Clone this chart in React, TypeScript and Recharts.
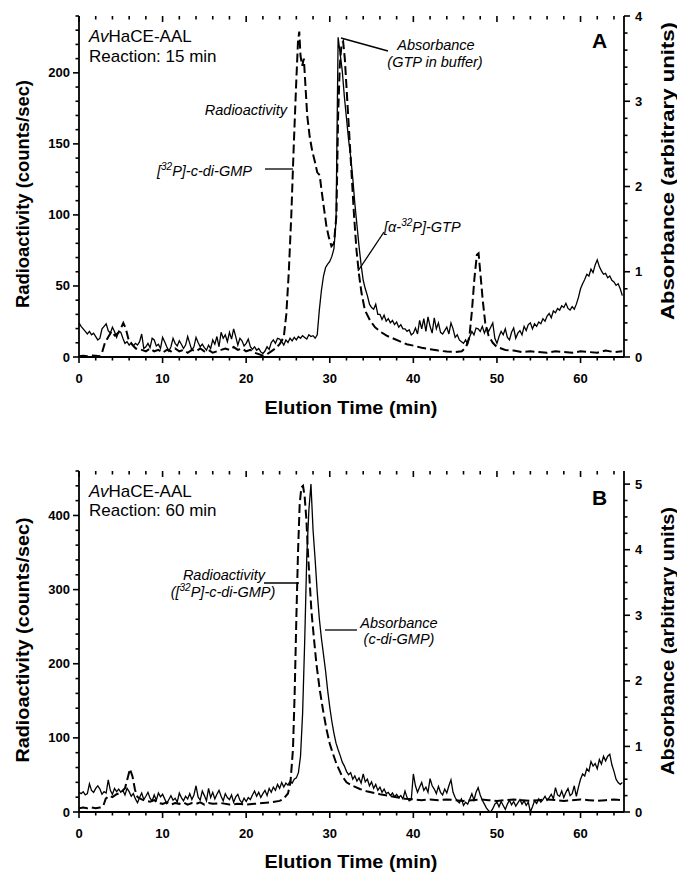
import React from "react"
import { ComposedChart, Line, XAxis, YAxis } from "recharts"

const FONT = "Arial, 'Liberation Sans', Helvetica, sans-serif"
const INK = "#000"

// absorbance traces are sampled every 0.25 min from 0 to 65 min
const ABS_STEP = 0.25

// ---- Panel A : reaction 15 min ----
const absorbanceA = [
  0.40, 0.36, 0.33, 0.30, 0.27, 0.30, 0.26, 0.28, 0.24, 0.20, 0.22, 0.33,
  0.36, 0.39, 0.31, 0.28, 0.35, 0.30, 0.23, 0.30, 0.29, 0.22, 0.16, 0.18,
  0.14, 0.17, 0.13, 0.16, 0.14, 0.18, 0.27, 0.10, 0.12, 0.16, 0.11, 0.22,
  0.20, 0.13, 0.15, 0.10, 0.23, 0.18, 0.12, 0.07, 0.12, 0.22, 0.16, 0.13,
  0.19, 0.15, 0.10, 0.14, 0.24, 0.16, 0.08, 0.12, 0.23, 0.17, 0.12, 0.15,
  0.11, 0.08, 0.14, 0.10, 0.20, 0.15, 0.24, 0.12, 0.29, 0.22, 0.26, 0.18,
  0.29, 0.21, 0.33, 0.24, 0.14, 0.22, 0.19, 0.13, 0.16, 0.21, 0.12, 0.09,
  0.12, 0.08, 0.10, 0.06, 0.04, 0.07, 0.12, 0.09, 0.17, 0.20, 0.16, 0.22,
  0.21, 0.18, 0.14, 0.20, 0.17, 0.22, 0.19, 0.23, 0.20, 0.24, 0.22, 0.25,
  0.23, 0.21, 0.26, 0.24, 0.25, 0.22, 0.26, 0.55, 0.78, 0.95, 1.05, 1.09,
  1.12, 1.18, 1.27, 1.60, 3.75, 3.55, 3.35, 3.05, 2.80, 2.55, 2.35, 2.10,
  1.80, 1.55, 1.30, 1.08, 0.90, 0.80, 0.72, 0.62, 0.58, 0.56, 0.62, 0.50,
  0.50, 0.44, 0.49, 0.42, 0.45, 0.40, 0.43, 0.38, 0.41, 0.35, 0.38, 0.33,
  0.33, 0.30, 0.32, 0.26, 0.28, 0.34, 0.27, 0.43, 0.33, 0.45, 0.30, 0.47,
  0.36, 0.28, 0.46, 0.33, 0.40, 0.29, 0.27, 0.31, 0.35, 0.27, 0.40, 0.33,
  0.23, 0.26, 0.20, 0.18, 0.16, 0.20, 0.15, 0.24, 0.30, 0.26, 0.34, 0.33,
  0.30, 0.36, 0.28, 0.34, 0.30, 0.35, 0.40, 0.22, 0.16, 0.24, 0.30, 0.26,
  0.33, 0.23, 0.20, 0.29, 0.34, 0.22, 0.28, 0.31, 0.26, 0.36, 0.31, 0.38,
  0.40, 0.33, 0.39, 0.36, 0.41, 0.39, 0.45, 0.42, 0.48, 0.51, 0.46, 0.54,
  0.52, 0.57, 0.55, 0.60, 0.58, 0.63, 0.57, 0.55, 0.59, 0.56, 0.62, 0.70,
  0.80, 0.86, 0.91, 0.97, 0.95, 1.03, 0.99, 1.08, 1.14, 1.06, 1.01, 0.97,
  0.98, 0.93, 0.95, 0.90, 0.88, 0.84, 0.86, 0.80, 0.72,
]

const radioTimeA = [
  0, 0.5, 1, 1.5, 2, 2.5, 2.8, 3.1, 3.5, 3.9, 4.3, 4.7, 5, 5.3, 5.6, 5.9, 6.3, 6.8,
  7.5, 8, 8.5, 9, 9.5, 10, 10.5, 11, 11.5, 12, 12.5, 13, 13.5, 14, 14.5, 15, 15.5,
  16, 16.5, 17, 17.5, 18, 18.5, 19, 19.5, 20, 20.5, 21, 21.5, 22, 22.5, 23, 23.5,
  24, 24.5, 24.8, 25.1, 25.4, 25.7, 26, 26.2, 26.35, 26.5, 26.7, 26.9, 27.1, 27.3,
  27.6, 27.9, 28.2, 28.5, 28.8, 29, 29.3, 29.6, 29.9, 30.2, 30.5, 30.8, 31, 31.2,
  31.4, 31.6, 31.8, 32, 32.3, 32.6, 32.9, 33.2, 33.5, 33.8, 34.2, 34.8, 35.4, 36,
  36.8, 37.6, 38.4, 39.2, 40, 41, 42, 43, 44, 45, 45.8, 46.3, 46.7, 47, 47.3, 47.6,
  47.8, 48, 48.3, 48.6, 49, 49.5, 50, 51, 52, 53, 54, 55, 56, 57, 58, 59, 60, 61,
  62, 63, 64, 65,
]
const radioCountsA = [
  0.5, 0.8, 0.5, 1, 0.8, 0.5, 4, 10, 14, 18, 15, 17, 20, 24, 20, 13, 9, 6,
  5, 4, 6, 4, 5, 3, 5, 4, 6, 4, 5, 3, 5, 4, 6, 4, 5,
  3, 4, 5, 6, 5, 7, 5, 6, 4, 5, 3, 2, 1, 2, 4, 6,
  9, 14, 30, 60, 100, 150, 195, 222, 229, 212, 205, 210, 190, 170,
  155, 145, 138, 130, 128, 118, 105, 92, 84, 78, 80, 100, 170, 205,
  220, 222, 210, 190, 160, 130, 100, 75, 58, 45, 33, 26, 21, 18,
  15, 13, 11, 9, 8, 6.5, 5.5, 4.5, 3.8, 3.5, 4, 7, 14, 32, 55, 72,
  73, 60, 40, 24, 15, 10, 7, 5, 4.5, 3.5, 4, 3.5, 3, 4, 3.5, 3, 4, 3.5,
  3, 4.5, 3.5, 4,
]

// ---- Panel B : reaction 60 min ----
const absorbanceB = [
  0.30, 0.28, 0.31, 0.26, 0.28, 0.43, 0.33, 0.30, 0.36, 0.40, 0.35, 0.27,
  0.31, 0.29, 0.49, 0.33, 0.27, 0.36, 0.31, 0.35, 0.30, 0.33, 0.26, 0.36,
  0.31, 0.24, 0.28, 0.20, 0.14, 0.22, 0.29, 0.19, 0.24, 0.30, 0.21, 0.17,
  0.26, 0.18, 0.29, 0.23, 0.27, 0.20, 0.13, 0.19, 0.25, 0.18, 0.21, 0.15,
  0.29, 0.22, 0.17, 0.24, 0.20, 0.28, 0.19, 0.26, 0.40, 0.23, 0.18, 0.32,
  0.25, 0.17, 0.36, 0.22, 0.30, 0.20, 0.27, 0.33, 0.24, 0.17, 0.28, 0.22,
  0.19, 0.26, 0.15, 0.23, 0.27, 0.18, 0.14, 0.21, 0.16, 0.22, 0.19, 0.26,
  0.32, 0.24, 0.30, 0.22, 0.28, 0.33, 0.25, 0.36, 0.30, 0.38, 0.33, 0.42,
  0.36, 0.45, 0.38, 0.44, 0.41, 0.47, 0.44, 0.50, 0.52, 0.60, 0.85, 1.50,
  2.60, 3.90, 4.60, 5.00, 4.30, 3.85, 3.35, 2.95, 2.65, 2.40, 2.15, 1.85,
  1.60, 1.38, 1.20, 1.05, 0.95, 0.86, 0.76, 0.70, 0.62, 0.57, 0.60, 0.50,
  0.55, 0.47, 0.52, 0.44, 0.58, 0.46, 0.50, 0.40, 0.46, 0.36, 0.42, 0.33,
  0.38, 0.30, 0.35, 0.28, 0.30, 0.25, 0.29, 0.23, 0.27, 0.22, 0.25, 0.20,
  0.32, 0.22, 0.17, 0.19, 0.58, 0.40, 0.30, 0.38, 0.45, 0.33, 0.38, 0.30,
  0.51, 0.40, 0.35, 0.28, 0.39, 0.30, 0.26, 0.35, 0.29, 0.40, 0.49, 0.30,
  0.22, 0.17, 0.14, 0.20, 0.10, 0.15, 0.12, 0.20, 0.28, 0.18, 0.30, 0.37,
  0.26, 0.18, 0.12, 0.06, 0.02, 0.00, 0.05, 0.12, 0.15, 0.08, 0.16, 0.10,
  0.04, 0.12, 0.18, 0.11, 0.16, 0.09, 0.14, 0.19, 0.12, 0.17, 0.10, 0.15,
  0.00, 0.08, 0.17, 0.13, 0.20, 0.15, 0.19, 0.24, 0.18, 0.22, 0.27, 0.20,
  0.37, 0.26, 0.24, 0.32, 0.22, 0.30, 0.36, 0.25, 0.28, 0.40, 0.24, 0.38,
  0.50, 0.58, 0.55, 0.66, 0.62, 0.77, 0.70, 0.74, 0.66, 0.80, 0.73, 0.85,
  0.78, 0.85, 0.88, 0.72, 0.62, 0.50, 0.45, 0.42, 0.45,
]

const radioTimeB = [
  0, 0.5, 1, 1.5, 2, 2.5, 2.9, 3.2, 3.6, 4, 4.5, 5, 5.5, 5.8, 6.1, 6.4, 6.7, 7,
  7.5, 8, 8.5, 9, 9.5, 10, 10.5, 11, 11.5, 12, 12.5, 13, 13.5, 14, 14.5, 15, 15.5,
  16, 17, 18, 19, 20, 21, 22, 23, 24, 24.5, 25, 25.3, 25.6, 25.8, 26, 26.2, 26.4,
  26.6, 26.8, 27, 27.2, 27.4, 27.6, 27.8, 28.1, 28.4, 28.8, 29.2, 29.6, 30, 30.4,
  30.8, 31.4, 32, 32.8, 33.6, 34.4, 35.2, 36, 37, 38, 39, 40, 41, 42, 43, 44, 45,
  46, 47, 48, 49, 50, 51, 52, 53, 54, 55, 56, 57, 58, 59, 60, 61, 62, 63, 64, 65,
]
const radioCountsB = [
  5, 6, 5, 6, 5, 6, 8, 18, 22, 20, 24, 26, 32, 45, 58, 48, 30, 20,
  17, 15, 14, 16, 12, 11, 13, 10, 12, 11, 13, 10, 12, 11, 13, 10, 12,
  11, 12, 10, 11, 10, 11, 12, 13, 15, 18, 25, 40, 85, 160, 260, 350, 415,
  438, 440, 425, 395, 348, 310, 272, 235, 200, 165, 137, 112, 92, 78,
  65, 50, 40, 35, 31, 28, 26, 24, 22, 20, 18, 17, 16, 17, 16, 17, 16,
  15, 16, 17, 16, 15, 16, 17, 16, 15, 16, 17, 16, 15, 16, 17, 16, 15, 16, 17, 16,
]

// ---- axis ticks (labels only on the major ones) ----
const timeTicks = [
  0, 2, 4, 6, 8, 10, 12, 14, 16, 18, 20, 22, 24, 26, 28, 30, 32, 34, 36, 38, 40,
  42, 44, 46, 48, 50, 52, 54, 56, 58, 60, 62, 64,
]
const radioTicksA = [
  0, 10, 20, 30, 40, 50, 60, 70, 80, 90, 100, 110, 120, 130, 140, 150, 160, 170,
  180, 190, 200, 210, 220, 230, 240,
]
const absTicksA = [
  0, 0.2, 0.4, 0.6, 0.8, 1, 1.2, 1.4, 1.6, 1.8, 2, 2.2, 2.4, 2.6, 2.8, 3, 3.2,
  3.4, 3.6, 3.8, 4,
]
const radioTicksB = [
  0, 20, 40, 60, 80, 100, 120, 140, 160, 180, 200, 220, 240, 260, 280, 300, 320,
  340, 360, 380, 400, 420, 440, 460,
]
const absTicksB = [
  0, 0.25, 0.5, 0.75, 1, 1.25, 1.5, 1.75, 2, 2.25, 2.5, 2.75, 3, 3.25, 3.5, 3.75,
  4, 4.25, 4.5, 4.75, 5,
]

const toAbsSeries = (vals: number[]) => vals.map((v, i) => ({ t: i * ABS_STEP, v }))
const toPairs = (ts: number[], vs: number[]) => ts.map((t, i) => ({ t, v: vs[i] }))

const isMajor = (v: number, every: number) => Math.abs(v / every - Math.round(v / every)) < 1e-6
const labelStyle = { fontFamily: FONT, fontWeight: "bold" as const, fontSize: 13, fill: INK }

// plot frame shared by both panels (matches the chart margins / axis sizes below)
const PLOT_LEFT = 79
const PLOT_W = 545
const PLOT_H = 341
const X_MAX = 65.2
const PANEL_B_TOP = 430

// tickSize/tickMargin are 0 on every axis, so x / y is the point on the axis line
function AxisLabel(props: any) {
  const { x, y, payload, side, every } = props
  const v = payload.value
  if (!isMajor(v, every)) return <g />
  if (side === "bottom") {
    return <text x={x} y={y + 26} textAnchor="middle" {...labelStyle}>{v}</text>
  }
  const left = side === "left"
  return (
    <text x={left ? x - 9 : x + 11} y={y + 4.5} textAnchor={left ? "end" : "start"} {...labelStyle}>
      {Math.round(v)}
    </text>
  )
}

interface PanelProps {
  absorbance: number[]
  radioTime: number[]
  radioCounts: number[]
  radioTicks: number[]
  radioMajor: number
  absTicks: number[]
  absDomain: number
  radioDomain: number
  height: number
  marginTop: number
  xHeight: number
}

function Panel(p: PanelProps) {
  const absData = toAbsSeries(p.absorbance)
  const radioData = toPairs(p.radioTime, p.radioCounts)
  const axisLine = { stroke: INK, strokeWidth: 1.8 }
  const xDomain: [number, number] = [0, X_MAX]
  return (
    <ComposedChart width={677} height={p.height} margin={{ top: p.marginTop, right: 0, bottom: 0, left: 0 }}>
      <XAxis xAxisId="b" type="number" dataKey="t" domain={xDomain} allowDataOverflow ticks={timeTicks} interval={0}
        height={p.xHeight} tickSize={0} tickMargin={0} tickLine={false} axisLine={axisLine}
        tick={<AxisLabel side="bottom" every={10} />} />
      <XAxis xAxisId="t" orientation="top" type="number" dataKey="t" domain={xDomain} allowDataOverflow
        height={0} tick={false} tickLine={false} axisLine={axisLine} />
      <YAxis yAxisId="radio" type="number" domain={[0, p.radioDomain]} allowDataOverflow ticks={p.radioTicks}
        interval={0} width={PLOT_LEFT} tickSize={0} tickMargin={0} tickLine={false} axisLine={axisLine}
        tick={<AxisLabel side="left" every={p.radioMajor} />} />
      <YAxis yAxisId="abs" orientation="right" type="number" domain={[0, p.absDomain]} allowDataOverflow
        ticks={p.absTicks} interval={0} width={677 - PLOT_LEFT - PLOT_W} tickSize={0} tickMargin={0} tickLine={false}
        axisLine={axisLine} tick={<AxisLabel side="right" every={1} />} />

      <Line data={absData} xAxisId="b" yAxisId="abs" dataKey="v" type="linear" stroke={INK} strokeWidth={1.3}
        dot={false} isAnimationActive={false} />
      <Line data={radioData} xAxisId="b" yAxisId="radio" dataKey="v" type="linear" stroke={INK} strokeWidth={2}
        strokeDasharray="9 4" dot={false} isAnimationActive={false} />
    </ComposedChart>
  )
}

// tick marks for one panel frame: bottom/left/right outward, top inward
function FrameTicks({ top, radioTicks, radioMax, radioMajor, absTicks, absMax }: any) {
  const bottom = top + PLOT_H
  const right = PLOT_LEFT + PLOT_W
  const xs = (t: number) => PLOT_LEFT + (t / X_MAX) * PLOT_W
  const marks: JSX.Element[] = []
  timeTicks.forEach((t) => {
    const len = isMajor(t, 10) ? 6 : 3.5
    marks.push(<line key={`b${t}`} x1={xs(t)} x2={xs(t)} y1={bottom} y2={bottom + len} />)
    marks.push(<line key={`t${t}`} x1={xs(t)} x2={xs(t)} y1={top} y2={top + len} />)
  })
  radioTicks.forEach((v: number) => {
    const y = bottom - (v / radioMax) * PLOT_H
    const len = isMajor(v, radioMajor) ? 6 : 3.5
    marks.push(<line key={`l${v}`} x1={PLOT_LEFT - len} x2={PLOT_LEFT} y1={y} y2={y} />)
  })
  absTicks.forEach((v: number) => {
    const y = bottom - (v / absMax) * PLOT_H
    const len = isMajor(v, 1) ? 6 : 3.5
    marks.push(<line key={`r${v}`} x1={right} x2={right + len} y1={y} y2={y} />)
  })
  return <g stroke={INK} strokeWidth={1.6}>{marks}</g>
}

const italic = { fontFamily: FONT, fontStyle: "italic" as const, fontSize: 14.5, fill: INK }
const bold = { fontFamily: FONT, fontWeight: "bold" as const, fill: INK }

function Overlay() {
  return (
    <svg width={677} height={873} style={{ position: "absolute", left: 0, top: 0, pointerEvents: "none" }}>
      <FrameTicks top={16} radioTicks={radioTicksA} radioMax={240} radioMajor={50} absTicks={absTicksA} absMax={4} />
      <FrameTicks top={PANEL_B_TOP + 41} radioTicks={radioTicksB} radioMax={460} radioMajor={100} absTicks={absTicksB} absMax={5.2} />

      {/* axis titles */}
      <text {...bold} fontSize={18} textAnchor="middle" transform="translate(29,194) rotate(-90)" textLength={228} lengthAdjust="spacingAndGlyphs">
        Radioactivity (counts/sec)
      </text>
      <text {...bold} fontSize={18} textAnchor="middle" transform="translate(29,640) rotate(-90)" textLength={245} lengthAdjust="spacingAndGlyphs">
        Radioactivity (counts/sec)
      </text>
      <text {...bold} fontSize={18} textAnchor="middle" transform="translate(674,171) rotate(-90)" textLength={298} lengthAdjust="spacingAndGlyphs">
        Absorbance (arbitrary units)
      </text>
      <text {...bold} fontSize={18} textAnchor="middle" transform="translate(674,641) rotate(-90)" textLength={268} lengthAdjust="spacingAndGlyphs">
        Absorbance (arbitrary units)
      </text>
      <text {...bold} fontSize={19} x={351} y={414} textAnchor="middle" textLength={173} lengthAdjust="spacingAndGlyphs">
        Elution Time (min)
      </text>
      <text {...bold} fontSize={19} x={351} y={868} textAnchor="middle" textLength={173} lengthAdjust="spacingAndGlyphs">
        Elution Time (min)
      </text>

      {/* panel labels */}
      <text {...bold} fontSize={21} x={592} y={48}>A</text>
      <text {...bold} fontSize={21} x={592} y={505}>B</text>

      {/* panel A notes */}
      <text fontFamily={FONT} fontSize={17} fill={INK} x={89} y={42}>
        <tspan fontStyle="italic">Av</tspan>HaCE-AAL
      </text>
      <text fontFamily={FONT} fontSize={17} fill={INK} x={89} y={62}>Reaction: 15 min</text>
      <text {...italic} x={287} y={115} textAnchor="end">Radioactivity</text>
      <text {...italic} x={157} y={176}>
        [<tspan fontSize={10} dy={-6}>32</tspan><tspan dy={6}>P]-c-di-GMP</tspan>
      </text>
      <line x1={265} x2={293} y1={169} y2={169} stroke={INK} strokeWidth={1.3} />
      <text {...italic} x={436} y={50} textAnchor="middle">Absorbance</text>
      <text {...italic} x={435} y={67} textAnchor="middle">(GTP in buffer)</text>
      <line x1={341} y1={38} x2={388} y2={51} stroke={INK} strokeWidth={1.3} />
      <text {...italic} x={384} y={232}>
        [α-<tspan fontSize={10} dy={-6}>32</tspan><tspan dy={6}>P]-GTP</tspan>
      </text>
      <line x1={358} y1={271} x2={384} y2={232} stroke={INK} strokeWidth={1.3} />

      {/* panel B notes */}
      <text fontFamily={FONT} fontSize={17} fill={INK} x={89} y={497}>
        <tspan fontStyle="italic">Av</tspan>HaCE-AAL
      </text>
      <text fontFamily={FONT} fontSize={17} fill={INK} x={89} y={516}>Reaction: 60 min</text>
      <text {...italic} x={224} y={580} textAnchor="middle">Radioactivity</text>
      <text {...italic} x={223} y={597} textAnchor="middle">
        ([<tspan fontSize={10} dy={-6}>32</tspan><tspan dy={6}>P]-c-di-GMP)</tspan>
      </text>
      <line x1={264} x2={299} y1={583} y2={583} stroke={INK} strokeWidth={1.3} />
      <text {...italic} x={399} y={628} textAnchor="middle">Absorbance</text>
      <text {...italic} x={399} y={644} textAnchor="middle">(c-di-GMP)</text>
      <line x1={325} x2={357} y1={630} y2={630} stroke={INK} strokeWidth={1.3} />
    </svg>
  )
}

export default function App() {
  return (
    <div style={{ position: "absolute", left: 0, top: 0, width: 677, height: 873, background: "#fff" }}>
      <div style={{ position: "absolute", left: 0, top: 0 }}>
        <Panel
          absorbance={absorbanceA}
          radioTime={radioTimeA}
          radioCounts={radioCountsA}
          radioTicks={radioTicksA}
          radioMajor={50}
          absTicks={absTicksA}
          absDomain={4}
          radioDomain={240}
          height={420}
          marginTop={16}
          xHeight={63}
        />
      </div>
      <div style={{ position: "absolute", left: 0, top: PANEL_B_TOP }}>
        <Panel
          absorbance={absorbanceB}
          radioTime={radioTimeB}
          radioCounts={radioCountsB}
          radioTicks={radioTicksB}
          radioMajor={100}
          absTicks={absTicksB}
          absDomain={5.2}
          radioDomain={460}
          height={443}
          marginTop={41}
          xHeight={61}
        />
      </div>
      <Overlay />
    </div>
  )
}
